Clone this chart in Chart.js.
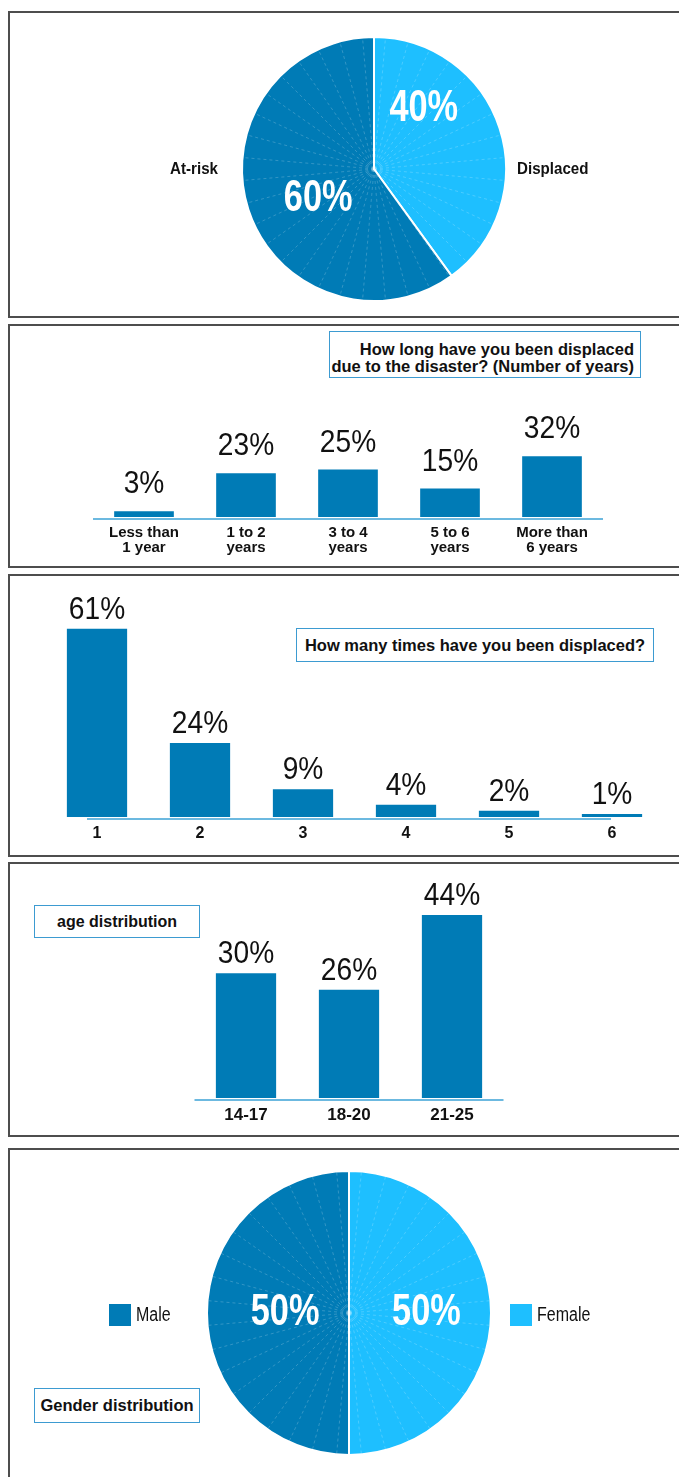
<!DOCTYPE html>
<html>
<head>
<meta charset="utf-8">
<script src="https://cdn.jsdelivr.net/npm/chart.js@4.4.1/dist/chart.umd.min.js"></script>
<style>
  body { margin: 0; background: #fff; width: 679px; height: 1477px; overflow: hidden; position: relative;
         font-family: "Liberation Sans", Arial, sans-serif; }
  .panel { position: absolute; left: 8px; width: 700px; border: 2px solid #4d4d4d; box-sizing: border-box; }
  canvas { position: absolute; }
  .title { position: absolute; border: 1px solid #3d9bd1; background: #fff; font-weight: bold; color: #111;
           box-sizing: border-box; white-space: nowrap; }
</style>
</head>
<body>
<div class="panel" style="top:11px;height:307px"></div>
<div class="panel" style="top:324px;height:244px"></div>
<div class="panel" style="top:574px;height:283px"></div>
<div class="panel" style="top:862px;height:275px"></div>
<div class="panel" style="top:1148px;height:360px"></div>

<canvas id="statusChart" width="669" height="303" style="left:10px;top:13px"></canvas>
<canvas id="yearsChart" width="669" height="240" style="left:10px;top:326px"></canvas>
<canvas id="timesChart" width="669" height="280" style="left:10px;top:576px"></canvas>
<canvas id="ageChart" width="669" height="272" style="left:10px;top:863px"></canvas>
<canvas id="genderChart" width="669" height="327" style="left:10px;top:1150px"></canvas>

<div class="title" style="left:329px;top:331px;width:312px;height:47px;text-align:right;font-size:16.5px;line-height:16.5px;padding:9px 6px 0 0">How long have you been displaced<br>due to the disaster? (Number of years)</div>
<div class="title" style="left:296px;top:628px;width:358px;height:34px;text-align:center;font-size:16.5px;line-height:32px">How many times have you been displaced?</div>
<div class="title" style="left:34px;top:905px;width:166px;height:33px;text-align:center;font-size:16px;line-height:31px">age distribution</div>
<div class="title" style="left:34px;top:1388px;width:166px;height:35px;text-align:center;font-size:16.5px;line-height:33px">Gender distribution</div>

<script>
// Chart data
const statusLabels = ['Displaced', 'At-risk'];
const statusValues = [40, 60];

const yearsLabels = [['Less than', '1 year'], ['1 to 2', 'years'], ['3 to 4', 'years'], ['5 to 6', 'years'], ['More than', '6 years']];
const yearsValues = [3, 23, 25, 15, 32];

const timesLabels = ['1', '2', '3', '4', '5', '6'];
const timesValues = [61, 24, 9, 4, 2, 1];

const ageLabels = ['14-17', '18-20', '21-25'];
const ageValues = [30, 26, 44];

const genderLabels = ['Female', 'Male'];
const genderValues = [50, 50];

const FONT = '"Liberation Sans", Arial, sans-serif';
const DARK = '#007bb6';
const LIGHT = '#1ebfff';
const AXIS = '#6cb9e0';

// draw text squeezed horizontally (the original uses a narrow face)
function narrowText(c, text, x, y, sx) {
    c.save();
    c.translate(x, y);
    c.scale(sx, 1);
    c.fillText(text, 0, 0);
    c.restore();
}

// faint dashed rays over the pies
const rays = {
    id: 'rays',
    afterDatasetsDraw(chart) {
        const arc = chart.getDatasetMeta(0).data[0];
        const c = chart.ctx;
        c.save();
        c.strokeStyle = 'rgba(255,255,255,0.25)';
        c.lineWidth = 0.8;
        c.setLineDash([3, 3]);
        for (let a = 5; a < 360; a += 10) {
            const t = (a - 90) * Math.PI / 180;
            c.beginPath();
            c.moveTo(arc.x, arc.y);
            c.lineTo(arc.x + Math.cos(t) * arc.outerRadius, arc.y + Math.sin(t) * arc.outerRadius);
            c.stroke();
        }
        c.restore();
    }
};

// percentages inside the slices + names / legend beside the pie
const pieText = {
    id: 'pieText',
    afterDatasetsDraw(chart, args, opts) {
        const c = chart.ctx;
        const arcs = chart.getDatasetMeta(0).data;
        const ds = chart.data.datasets[0];
        c.save();
        arcs.forEach((arc, i) => {
            const [f, r] = opts.spots[i];
            const ang = arc.startAngle + (arc.endAngle - arc.startAngle) * f;
            c.font = 'bold 44px ' + FONT;
            c.fillStyle = '#fff';
            c.textAlign = 'center';
            c.textBaseline = 'middle';
            narrowText(c, ds.data[i] + '%', arc.x + Math.cos(ang) * arc.outerRadius * r,
                arc.y + Math.sin(ang) * arc.outerRadius * r, 0.78);

            // first slice is named on the right, second on the left
            const right = i === 0;
            const name = chart.data.labels[i];
            if (opts.legend) {
                const bx = right ? arc.x + arc.outerRadius + opts.gaps[0] : arc.x - arc.outerRadius - opts.gaps[1] - 22;
                c.fillStyle = ds.backgroundColor[i];
                c.fillRect(bx, arc.y - 9, 22, 22);
                c.fillStyle = '#111';
                c.font = '20px ' + FONT;
                c.textAlign = 'left';
                narrowText(c, name, bx + 27, arc.y + 2, 0.8);
            } else {
                c.fillStyle = '#111';
                c.font = 'bold 17px ' + FONT;
                c.textAlign = right ? 'left' : 'right';
                narrowText(c, name, right ? arc.x + arc.outerRadius + opts.gaps[0] : arc.x - arc.outerRadius - opts.gaps[1], arc.y, 0.89);
            }
        });
        c.restore();
    }
};

// value labels above bars and the light blue base line
const barValues = {
    id: 'barValues',
    afterDatasetsDraw(chart, args, opts) {
        const c = chart.ctx;
        const a = chart.chartArea;
        const data = chart.data.datasets[0].data;
        c.save();
        c.font = '32px ' + FONT;
        c.fillStyle = '#111';
        c.textAlign = 'center';
        c.textBaseline = 'alphabetic';
        chart.getDatasetMeta(0).data.forEach((bar, i) => {
            narrowText(c, data[i] + '%', bar.x, bar.y - opts.gap, 0.88);
        });
        c.strokeStyle = AXIS;
        c.lineWidth = 2;
        c.beginPath();
        c.moveTo(a.left + opts.inset[0], a.bottom + 2);
        c.lineTo(a.right - opts.inset[1], a.bottom + 2);
        c.stroke();
        c.restore();
    }
};

function pieChart(id, labels, values, padding, pluginOpts) {
    return new Chart(document.getElementById(id), {
        type: 'pie',
        data: {
            labels: labels,
            datasets: [{
                data: values,
                backgroundColor: [LIGHT, DARK],
                borderColor: '#fff',
                borderWidth: 2
            }]
        },
        options: {
            responsive: false,
            animation: false,
            devicePixelRatio: 1,
            layout: { padding: padding },
            plugins: {
                legend: { display: false },
                tooltip: { enabled: false },
                pieText: pluginOpts
            }
        },
        plugins: [rays, pieText]
    });
}

function barChart(id, labels, values, o) {
    return new Chart(document.getElementById(id), {
        type: 'bar',
        data: {
            labels: labels,
            datasets: [{
                data: values,
                backgroundColor: DARK,
                barPercentage: 0.585,
                categoryPercentage: 1
            }]
        },
        options: {
            responsive: false,
            animation: false,
            devicePixelRatio: 1,
            layout: { padding: o.padding },
            plugins: {
                legend: { display: false },
                tooltip: { enabled: false },
                barValues: { gap: o.gap, inset: o.inset }
            },
            scales: {
                y: { display: false, min: 0, max: o.max },
                x: {
                    grid: { display: false, drawTicks: false },
                    border: { display: false },
                    ticks: {
                        color: '#111',
                        font: { family: FONT, size: o.tickSize, weight: 'bold', lineHeight: 1.0 },
                        padding: o.tickPad,
                        maxRotation: 0,
                        autoSkip: false
                    },
                    afterFit: (s) => { s.height = o.axisH; }
                }
            }
        },
        plugins: [barValues]
    });
}

pieChart('statusChart', statusLabels, statusValues,
    { left: 231, right: 172, top: 23, bottom: 14 },
    { spots: [[0.276, 0.59], [0.453, 0.48]], gaps: [11, 24] });

barChart('yearsChart', yearsLabels, yearsValues,
    { padding: { left: 83, right: 76, top: 96, bottom: 0 }, max: 50, axisH: 49, gap: 18, inset: [0, 0], tickSize: 15, tickPad: 8 });

barChart('timesChart', timesLabels, timesValues,
    { padding: { left: 35.5, right: 15.5, top: 25, bottom: 0 }, max: 70, axisH: 39, gap: 10, inset: [41.5, 52.5], tickSize: 16, tickPad: 9 });

barChart('ageChart', ageLabels, ageValues,
    { padding: { left: 184.5, right: 175.5, top: 27, bottom: 0 }, max: 50, axisH: 37, gap: 10, inset: [0, 0], tickSize: 17, tickPad: 9 });

pieChart('genderChart', genderLabels, genderValues,
    { left: 196, right: 187, top: 20, bottom: 21 },
    { spots: [[0.5, 0.545], [0.5, 0.45]], gaps: [19, 76], legend: true });
</script>
</body>
</html>
